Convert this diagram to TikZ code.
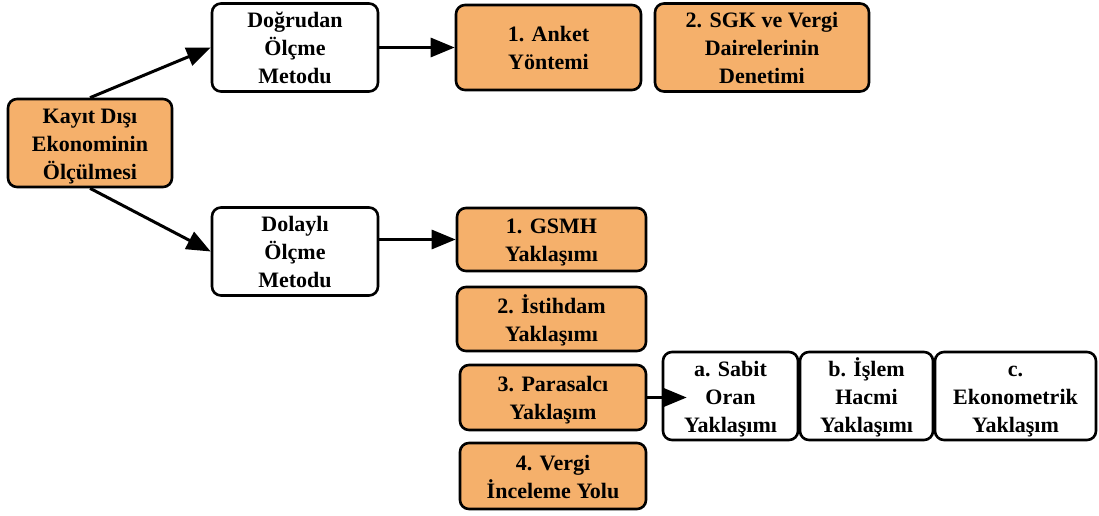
\documentclass[tikz,border=0pt]{standalone}
\usepackage{fontspec}
\setmainfont{Liberation Serif}
\usetikzlibrary{arrows.meta}
\definecolor{boxorange}{HTML}{F5B06B}
\begin{document}
\begin{tikzpicture}[x=1pt,y=-1pt,
  box/.style={draw=black, line width=2.6pt, rounded corners=9pt, fill=white, align=center,
    font=\bfseries\fontsize{22}{28}\selectfont, inner sep=0pt},
  obox/.style={box, fill=boxorange},
  conn/.style={line width=3pt, -{Triangle[length=24pt,width=19pt]}}]
\useasboundingbox (0,0) rectangle (1099,516);
\newcommand{\boxat}[7]{\node[#1, minimum width=#4-#2, minimum height=#5-#3] (#6) at ({(#2+#4)/2},{(#3+#5)/2}) {\rule{0pt}{24pt}#7\rule[-8pt]{0pt}{8pt}}}
\boxat{obox}{8}{100}{172}{186}{kayit}{Kayıt Dışı\\Ekonominin\\Ölçülmesi};
\boxat{box}{212}{5}{378}{90}{dogrudan}{Doğrudan\\Ölçme\\Metodu};
\boxat{box}{212}{208}{378}{295}{dolayli}{Dolaylı\\Ölçme\\Metodu};
\boxat{obox}{456}{5}{641}{90}{anket}{1. Anket\\Yöntemi};
\boxat{obox}{655}{5}{869}{90}{sgk}{2. SGK ve Vergi\\Dairelerinin\\Denetimi};
\boxat{obox}{457}{208}{646}{271}{gsmh}{1. GSMH\\Yaklaşımı};
\boxat{obox}{457}{287}{646}{351}{istihdam}{2. İstihdam\\Yaklaşımı};
\boxat{obox}{460}{365}{646}{430}{parasalci}{3. Parasalcı\\Yaklaşım};
\boxat{obox}{460}{443}{646}{509}{vergi}{4. Vergi\\İnceleme Yolu};
\boxat{box}{663}{353}{798}{439}{sabit}{a. Sabit\\Oran\\Yaklaşımı};
\boxat{box}{800}{353}{933}{439}{islem}{b. İşlem\\Hacmi\\Yaklaşımı};
\boxat{box}{935}{353}{1096}{439}{ekonometrik}{c.\\Ekonometrik\\Yaklaşım};
\draw[conn] (kayit.north) -- (dogrudan.west);
\draw[conn] (kayit.south) -- (dolayli.west);
\draw[conn] (dogrudan.east) -- (anket.west);
\draw[conn] (dolayli.east |- gsmh.west) -- (gsmh.west);
\draw[conn] (parasalci.east) -- ([xshift=25pt]parasalci.east -| sabit.west);
\end{tikzpicture}
\end{document}
